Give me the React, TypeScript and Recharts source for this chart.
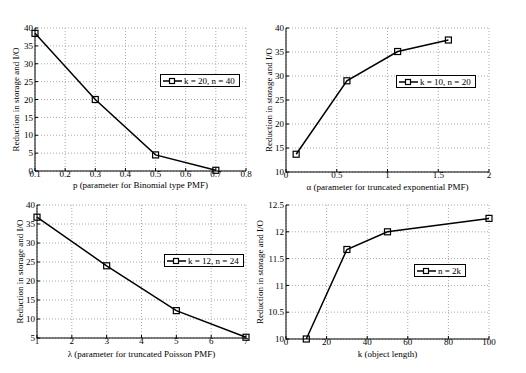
import { LineChart, Line, XAxis, YAxis, CartesianGrid, Legend, Label } from 'recharts';

// values
const binomP = [0.1, 0.3, 0.5, 0.7];
const binomReduction = [38.5, 20, 4.5, 0.2];
const binomXTicks = [0.1, 0.2, 0.3, 0.4, 0.5, 0.6, 0.7, 0.8];
const binomYTicks = [0, 5, 10, 15, 20, 25, 30, 35, 40];

const expAlpha = [0.1, 0.6, 1.1, 1.6];
const expReduction = [13.7, 29, 35.1, 37.5];
const expXTicks = [0, 0.5, 1, 1.5, 2];
const expYTicks = [10, 15, 20, 25, 30, 35, 40];

const poisLambda = [1, 3, 5, 7];
const poisReduction = [36.8, 24, 12.2, 5.2];
const poisXTicks = [1, 2, 3, 4, 5, 6, 7];
const poisYTicks = [5, 10, 15, 20, 25, 30, 35, 40];

const lenK = [10, 30, 50, 100];
const lenReduction = [10, 11.67, 12, 12.25];
const lenXTicks = [0, 20, 40, 60, 80, 100];
const lenYTicks = [10, 10.5, 11, 11.5, 12, 12.5];

const FONT = '"Liberation Serif", "Times New Roman", serif';

type PanelProps = {
  xs: number[];
  ys: number[];
  xTicks: number[];
  yTicks: number[];
  xLabel: string;
  legend: string;
  box: { left: number; top: number; width: number; height: number };
  margin: { top: number; right: number; bottom: number; left: number };
  yAxisWidth: number;
  xAxisHeight: number;
  yLabelOffset: number;
  xLabelOffset: number;
  legendPos: { left: number; top: number };
};

const SquareDot = (props: any) => {
  const { cx, cy, index } = props;
  if (cx == null || cy == null) return null;
  return <rect key={index} x={cx - 3} y={cy - 3} width={6} height={6} fill="none" stroke="#000" strokeWidth={1.2} />;
};

function LegendBox({ text }: { text: string }) {
  return (
    <div
      style={{
        border: '1px solid #000',
        background: '#fff',
        display: 'flex',
        alignItems: 'center',
        padding: '0 4px 0 2px',
        height: 11,
        fontFamily: FONT,
        fontSize: 9,
        whiteSpace: 'nowrap',
        color: '#000',
      }}
    >
      <svg width={19} height={8} style={{ marginRight: 2 }}>
        <line x1={0} y1={4} x2={19} y2={4} stroke="#000" strokeWidth={1.5} />
        <rect x={6.5} y={1.5} width={5} height={5} fill="#fff" stroke="#000" strokeWidth={1.2} />
      </svg>
      {text}
    </div>
  );
}

function Panel(p: PanelProps) {
  const data = p.xs.map((x, i) => ({ x, y: p.ys[i] }));
  const xDomain = [p.xTicks[0], p.xTicks[p.xTicks.length - 1]];
  const yDomain = [p.yTicks[0], p.yTicks[p.yTicks.length - 1]];
  const tickStyle = { fontFamily: FONT, fontSize: 9, fill: '#000' };
  return (
    <div style={{ position: 'absolute', ...p.box }}>
      <LineChart width={p.box.width} height={p.box.height} data={data} margin={p.margin}>
        <CartesianGrid stroke="#aaa" strokeDasharray="1 2" />
        <XAxis
          dataKey="x"
          type="number"
          domain={xDomain}
          ticks={p.xTicks}
          height={p.xAxisHeight}
          stroke="#000"
          tick={tickStyle}
          tickSize={-3}
          tickMargin={3}
          interval={0}
        >
          <Label value={p.xLabel} position="insideBottom" offset={p.xLabelOffset} style={{ fontFamily: FONT, fontSize: 9, fill: '#000' }} />
        </XAxis>
        <XAxis xAxisId="top" orientation="top" type="number" domain={xDomain} ticks={p.xTicks} height={0} stroke="#000" tick={false} tickSize={-3} />
        <YAxis
          type="number"
          domain={yDomain}
          ticks={p.yTicks}
          width={p.yAxisWidth}
          stroke="#000"
          tick={tickStyle}
          tickSize={-3}
          tickMargin={5}
          interval={0}
        >
          <Label
            value="Reduction in storage and I/O"
            angle={-90}
            position="insideLeft"
            offset={p.yLabelOffset}
            style={{ fontFamily: FONT, fontSize: 9, fill: '#000', textAnchor: 'middle' }}
          />
        </YAxis>
        <YAxis yAxisId="right" orientation="right" type="number" domain={yDomain} ticks={p.yTicks} width={0} stroke="#000" tick={false} tickSize={-3} />
        <Legend
          layout="horizontal"
          verticalAlign="middle"
          align="center"
          wrapperStyle={{ left: p.legendPos.left, top: p.legendPos.top, width: 'auto' }}
          content={() => <LegendBox text={p.legend} />}
        />
        <Line
          dataKey="y"
          name={p.legend}
          stroke="#000"
          strokeWidth={1.5}
          dot={SquareDot}
          activeDot={false}
          isAnimationActive={false}
        />
      </LineChart>
    </div>
  );
}

export default function App() {
  return (
    <div style={{ position: 'relative', width: 526, height: 373, margin: -8, background: '#fff' }}>
      <Panel
        xs={binomP}
        ys={binomReduction}
        xTicks={binomXTicks}
        yTicks={binomYTicks}
        xLabel="p (parameter for Binomial type PMF)"
        legend="k = 20, n = 40"
        box={{ left: 0, top: 0, width: 263, height: 190 }}
        margin={{ top: 28, right: 17, bottom: 0, left: 0 }}
        yAxisWidth={35}
        xAxisHeight={19}
        yLabelOffset={16}
        xLabelOffset={2}
        legendPos={{ left: 160, top: 74 }}
      />
      <Panel
        xs={expAlpha}
        ys={expReduction}
        xTicks={expXTicks}
        yTicks={expYTicks}
        xLabel="α (parameter for truncated exponential PMF)"
        legend="k = 10, n = 20"
        box={{ left: 253, top: 0, width: 273, height: 196 }}
        margin={{ top: 28, right: 37, bottom: 6, left: 0 }}
        yAxisWidth={33}
        xAxisHeight={18}
        yLabelOffset={16}
        xLabelOffset={0}
        legendPos={{ left: 143, top: 75 }}
      />
      <Panel
        xs={poisLambda}
        ys={poisReduction}
        xTicks={poisXTicks}
        yTicks={poisYTicks}
        xLabel="λ (parameter for truncated Poisson PMF)"
        legend="k = 12, n = 24"
        box={{ left: 0, top: 190, width: 263, height: 183 }}
        margin={{ top: 15, right: 17, bottom: 0, left: 0 }}
        yAxisWidth={37}
        xAxisHeight={35}
        yLabelOffset={20}
        xLabelOffset={16}
        legendPos={{ left: 164, top: 64 }}
      />
      <Panel
        xs={lenK}
        ys={lenReduction}
        xTicks={lenXTicks}
        yTicks={lenYTicks}
        xLabel="k (object length)"
        legend="n = 2k"
        box={{ left: 250, top: 190, width: 276, height: 183 }}
        margin={{ top: 15, right: 37, bottom: 0, left: 0 }}
        yAxisWidth={36}
        xAxisHeight={34}
        yLabelOffset={10}
        xLabelOffset={16}
        legendPos={{ left: 164, top: 74 }}
      />
    </div>
  );
}
